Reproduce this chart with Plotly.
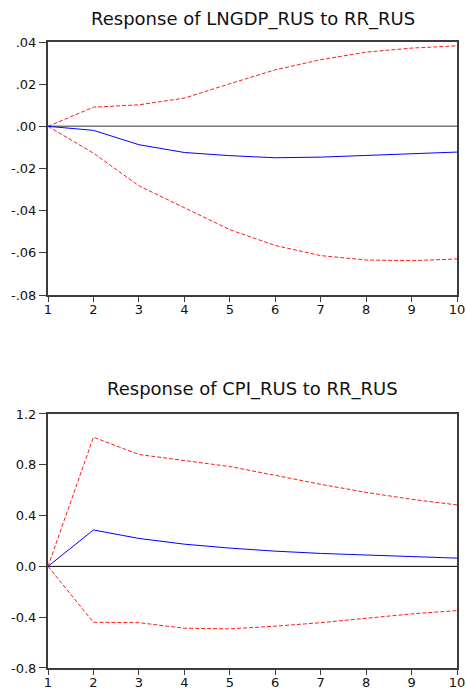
import plotly.graph_objects as go

# ── Impulse response data (periods 1..10) ─────────────────────────────────────
periods = list(range(1, 11))

gdp_resp = [0.0, -0.0019, -0.0087, -0.0124, -0.0139, -0.0149, -0.0146, -0.0139, -0.0131, -0.0122]
gdp_upper = [0.0, 0.0091, 0.0102, 0.0134, 0.0202, 0.0268, 0.0316, 0.0352, 0.0371, 0.0382]
gdp_lower = [0.0, -0.0127, -0.0282, -0.0387, -0.0490, -0.0565, -0.0613, -0.0634, -0.0637, -0.0629]

cpi_resp = [0.0, 0.287, 0.220, 0.175, 0.144, 0.120, 0.102, 0.089, 0.078, 0.065]
cpi_upper = [0.0, 1.017, 0.881, 0.832, 0.786, 0.717, 0.646, 0.583, 0.528, 0.484]
cpi_lower = [0.0, -0.440, -0.443, -0.487, -0.492, -0.471, -0.443, -0.408, -0.374, -0.348]

gdp_ticks = [0.04, 0.02, 0.0, -0.02, -0.04, -0.06, -0.08]
gdp_ticktext = [".04", ".02", ".00", "-.02", "-.04", "-.06", "-.08"]
cpi_ticks = [1.2, 0.8, 0.4, 0.0, -0.4, -0.8]
cpi_ticktext = ["1.2", "0.8", "0.4", "0.0", "-0.4", "-0.8"]

FONT = "DejaVu Sans, Arial, sans-serif"
FRAME = "#3c3c3c"

fig = go.Figure()

for resp, up, lo, ax in [(gdp_resp, gdp_upper, gdp_lower, ""),
                         (cpi_resp, cpi_upper, cpi_lower, "2")]:
    xa, ya = "x" + ax, "y" + ax
    fig.add_trace(go.Scatter(x=periods, y=up, mode="lines", xaxis=xa, yaxis=ya,
                             line=dict(color="#ff1a1a", width=1, dash="4px,2px")))
    fig.add_trace(go.Scatter(x=periods, y=lo, mode="lines", xaxis=xa, yaxis=ya,
                             line=dict(color="#ff1a1a", width=1, dash="4px,2px")))
    fig.add_trace(go.Scatter(x=periods, y=resp, mode="lines", xaxis=xa, yaxis=ya,
                             line=dict(color="#0000ff", width=1)))

# zero reference lines
fig.add_shape(type="line", xref="x", yref="y", x0=1, x1=10, y0=0, y1=0,
              line=dict(color="#7a7a7a", width=1.5), layer="below")
fig.add_shape(type="line", xref="x2", yref="y2", x0=1, x1=10, y0=0, y1=0,
              line=dict(color="#000000", width=1), layer="below")

x_common = dict(range=[1, 10], tickvals=periods, ticktext=[str(p) for p in periods],
                showgrid=False, zeroline=False, showline=True, mirror=True,
                linecolor=FRAME, linewidth=2, ticks="outside", ticklen=5,
                tickcolor=FRAME, automargin=False, ticklabelstandoff=-4,
                tickfont=dict(family=FONT, size=13, color="#111"))
y_common = dict(showgrid=False, zeroline=False, showline=True, mirror=True,
                linecolor=FRAME, linewidth=2, ticks="outside", ticklen=7,
                tickcolor=FRAME, automargin=False,
                tickfont=dict(family=FONT, size=13, color="#111"))

fig.update_layout(
    width=466, height=692,
    margin=dict(l=48, r=9, t=42, b=24),
    paper_bgcolor="white", plot_bgcolor="white",
    showlegend=False,
    xaxis=dict(**x_common, domain=[0, 1], anchor="y"),
    yaxis=dict(**y_common, domain=[0.5958, 1], range=[-0.08, 0.04],
               tickvals=gdp_ticks, ticktext=gdp_ticktext, anchor="x"),
    xaxis2=dict(**x_common, domain=[0, 1], anchor="y2"),
    yaxis2=dict(**y_common, domain=[0, 0.4058], range=[-0.8, 1.2],
                tickvals=cpi_ticks, ticktext=cpi_ticktext, anchor="x2"),
    annotations=[
        dict(text="Response of LNGDP_RUS to RR_RUS", xref="paper", yref="paper",
             x=0.5, y=1.0, yshift=23, yanchor="middle", showarrow=False,
             font=dict(family=FONT, size=18, color="#111")),
        dict(text="Response of CPI_RUS to RR_RUS", xref="paper", yref="paper",
             x=0.5, y=0.4058, yshift=25, yanchor="middle", showarrow=False,
             font=dict(family=FONT, size=18, color="#111")),
    ],
)

# drop the default body margin / scrollbars so the figure sits at 0,0
post = """
document.documentElement.style.margin='0';
document.body.style.margin='0';
document.documentElement.style.overflow='hidden';
document.body.style.overflow='hidden';
"""
fig.write_html("out.html", post_script=post, config={"displayModeBar": False})
